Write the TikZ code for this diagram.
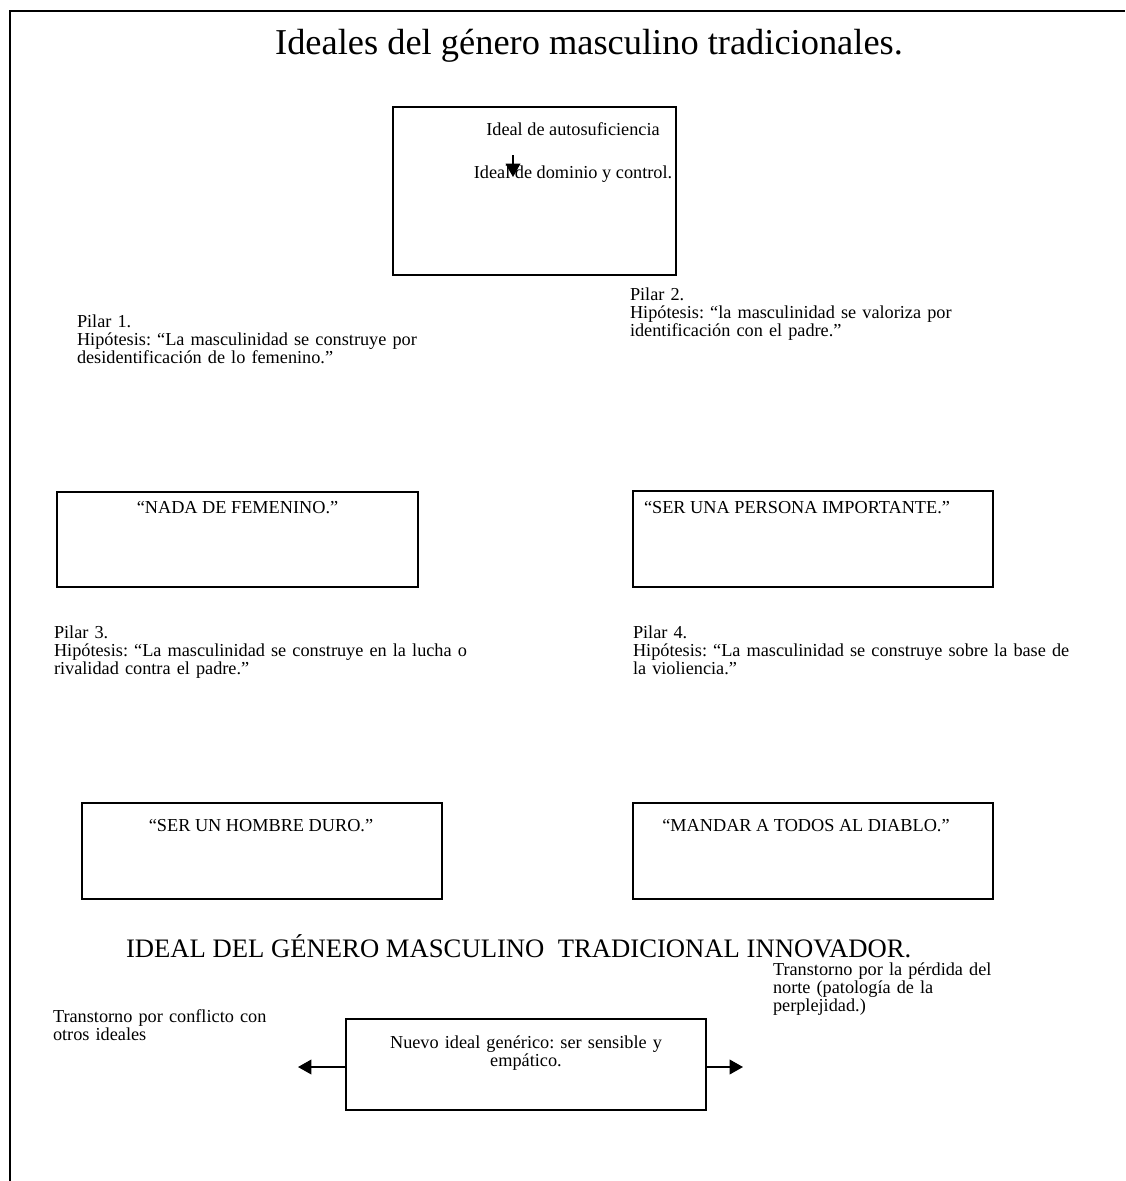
\documentclass[tikz,border=0pt]{standalone}
\usepackage{fontspec}
\setmainfont{Liberation Serif}
\usetikzlibrary{arrows.meta}
\frenchspacing
\begin{document}
\frenchspacing
\begin{tikzpicture}[x=0.75pt,y=-0.75pt,
  every node/.style={inner sep=0pt, outer sep=0pt},
  body/.style={font=\fontsize{13.7}{13.5}\selectfont},
  para/.style={body, anchor=base west, align=left, text width=330pt},
  boxtxt/.style={body, anchor=base},
  box/.style={draw, line width=1.3pt, minimum width=#1*0.75pt},
  boxh/.style={minimum height=#1*0.75pt},
  tip/.style={line width=1.1pt, -{Triangle[length=10pt,width=11pt]}}
]
\useasboundingbox (0,0) rectangle (1125,1181);
% outer frame
\draw[line width=1.5pt] (10,1181) -- (10,11) -- (1125,11);

% title
\node[anchor=base, font=\fontsize{27.3}{30}\selectfont] (title) at (589,55) {Ideales del género masculino tradicionales.};

% top box
\node[box=283, boxh=168] (top) at (534.5,191) {};
\node[boxtxt] (topA) at (573,135) {Ideal de autosuficiencia};
\node[boxtxt] (topB) at (573,178) {Ideal de dominio y control.};
\coordinate (arA) at (513,155);
\coordinate (arB) at (513,177);
\draw[line width=1pt, -{Triangle[length=10pt,width=11pt]}] (arA) -- (arB);

% pillars 1 and 2
\node[para] (p1) at (77,327) {Pilar 1.\\Hipótesis: “La masculinidad se construye por\\desidentificación de lo femenino.”};
\node[para] (p2) at (630,300) {Pilar 2.\\Hipótesis: “la masculinidad se valoriza por\\identificación con el padre.”};

% row 2 boxes
\node[box=361, boxh=95] (nada) at (237.5,539.5) {};
\node[boxtxt] (nadaT) at (237.5,513) {“NADA DE FEMENINO.”};
\node[box=360, boxh=96] (pers) at (813,539) {};
\node[boxtxt] (persT) at (797,513) {“SER UNA PERSONA IMPORTANTE.”};

% pillars 3 and 4
\node[para] (p3) at (54,638) {Pilar 3.\\Hipótesis: “La masculinidad se construye en la lucha o\\rivalidad contra el padre.”};
\node[para] (p4) at (633,638) {Pilar 4.\\Hipótesis: “La masculinidad se construye sobre la base de\\la violiencia.”};

% row 3 boxes
\node[box=360, boxh=96] (duro) at (262,851) {};
\node[boxtxt] (duroT) at (261,831) {“SER UN HOMBRE DURO.”};
\node[box=360, boxh=96] (diablo) at (813,851) {};
\node[boxtxt] (diabloT) at (806,831) {“MANDAR A TODOS AL DIABLO.”};

% second title
\node[anchor=base west, font=\fontsize{20}{24}\selectfont] (title2) at (126,957) {IDEAL DEL GÉNERO MASCULINO\ \ TRADICIONAL INNOVADOR.};

% bottom part
\node[para] (left) at (53,1022) {Transtorno por conflicto con\\otros ideales};
\node[para] (right) at (773,975) {Transtorno por la pérdida del\\norte (patología de la\\perplejidad.)};
\node[box=360, boxh=91] (nuevo) at (526,1064.5) {};
\node[body, anchor=base, align=center, text width=270pt] (nuevoT) at (526,1048) {Nuevo ideal genérico: ser sensible y\\empático.};
\coordinate (ay) at (526,1067);
\coordinate (ltip) at (298,1067);
\coordinate (rtip) at (743,1067);
\draw[tip] (nuevo.west |- ay) -- (ltip);
\draw[tip] (nuevo.east |- ay) -- (rtip);
\end{tikzpicture}
\end{document}
